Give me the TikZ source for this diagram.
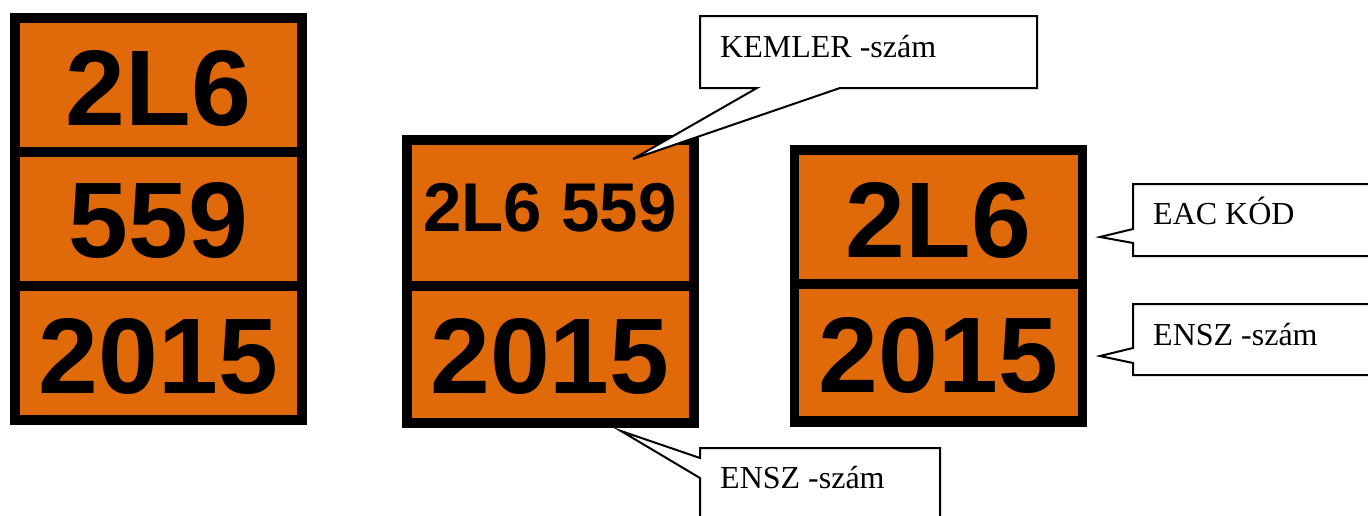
\documentclass[tikz,border=0pt]{standalone}
\usepackage{fontspec}
\setmainfont{Liberation Serif}
\newfontfamily\signfont{Liberation Sans}
\definecolor{plate}{HTML}{E0690A}
\begin{document}
\begin{tikzpicture}[x=1pt,y=-1pt,
  frame/.style={fill=black},
  row/.style={fill=plate},
  bignum/.style={font=\signfont\bfseries\fontsize{107.5}{110}\selectfont, inner sep=0pt, anchor=base},
  smallnum/.style={font=\signfont\bfseries\fontsize{69}{72}\selectfont, inner sep=0pt, anchor=base},
  callout/.style={fill=white, draw=black, line width=2pt, line join=miter},
  lbl/.style={font=\fontsize{32}{36}\selectfont, inner sep=0pt, anchor=base west}
]
\useasboundingbox (0,0) rectangle (1368,515);
\clip (0,0) rectangle (1368,515);
\fill[white] (0,0) rectangle (1368,515);

% ---- panel 1 ----
\fill[frame] (10,13) rectangle (307,425);
\fill[row] (20,23) rectangle (297,147);
\fill[row] (20,157) rectangle (297,281);
\fill[row] (20,291) rectangle (297,415);
\node[bignum] (p1a) at (158.5,125) {2L6};
\node[bignum] (p1b) at (158.5,257) {559};
\node[bignum] (p1c) at (158.5,393) {2015};

% ---- panel 2 ----
\fill[frame] (402,135) rectangle (699,428);
\fill[row] (412,145) rectangle (689,281);
\fill[row] (412,291) rectangle (689,418);
\node[smallnum] (p2a) at (550,231) {2L6 559};
\node[bignum] (p2b) at (550,393) {2015};

% ---- panel 3 ----
\fill[frame] (790,145) rectangle (1087,427);
\fill[row] (799,155) rectangle (1078,279);
\fill[row] (799,289) rectangle (1078,416);
\node[bignum] (p3a) at (938.5,257) {2L6};
\node[bignum] (p3b) at (938.5,392) {2015};

% ---- callout tips ----
\coordinate (tipK) at (633,159);
\coordinate (tipU) at (621,431);
\coordinate (tipE) at (1100,237);
\coordinate (tipN) at (1100,356);

% ---- callouts ----
\draw[callout] (700,16) -- (1037,16) -- (1037,88) -- (840,88) -- (tipK) -- (757,88) -- (700,88) -- cycle;
\node[lbl] (lk) at (720,57) {KEMLER -szám};

\draw[callout] (tipU) -- (700,458) -- (700,448) -- (940,448) -- (940,540) -- (700,540) -- (700,478) -- cycle;
\node[lbl] (lu) at (720,488) {ENSZ -szám};

\draw[callout] (tipE) -- (1133,229) -- (1133,184) -- (1390,184) -- (1390,256) -- (1133,256) -- (1133,243) -- cycle;
\node[lbl] (le) at (1153,224) {EAC KÓD};

\draw[callout] (tipN) -- (1133,348) -- (1133,304) -- (1390,304) -- (1390,375) -- (1133,375) -- (1133,363) -- cycle;
\node[lbl] (ln) at (1153,345) {ENSZ -szám};
\end{tikzpicture}
\end{document}
